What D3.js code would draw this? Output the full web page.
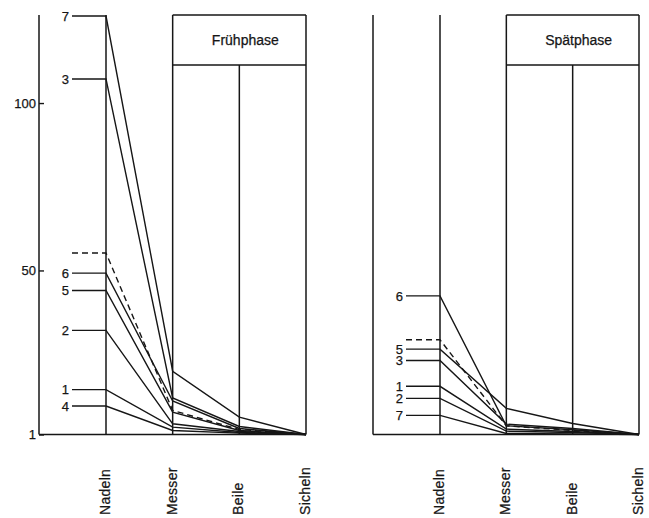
<!DOCTYPE html>
<html>
<head>
<meta charset="utf-8">
<script src="https://cdn.jsdelivr.net/npm/d3@7"></script>
<style>
  html, body { margin: 0; padding: 0; background: #fff; }
  text { font-family: 'Liberation Sans', Arial, sans-serif; fill: #161616; stroke: #161616; stroke-width: 0.25px; }
</style>
</head>
<body>
<div id="app"></div>
<script>
(function (d3) {

  'use strict'

  const categories = ['Nadeln', 'Messer', 'Beile', 'Sicheln']
  const yTicks = [1, 50, 100]

  // Frühphase: number label, values for Nadeln/Messer/Beile/Sicheln ('' = dashed line)
  const fruehLabels = ['7', '3', '', '6', '5', '2', '1', '4']
  const fruehValues = [
    [126, 19.9, 6.2, 1],
    [107.2, 11.9, 3.4, 1],
    [55.2, 8.2, 2.5, 1],
    [49.2, 11.0, 2.8, 1],
    [44.0, 7.7, 2.2, 1],
    [32.1, 4.2, 1.9, 1],
    [14.4, 3.2, 1.6, 1],
    [9.5, 2.2, 1.4, 1]
  ]

  // Spätphase
  const spaetLabels = ['6', '', '5', '3', '1', '2', '7']
  const spaetValues = [
    [42.4, 3.6, 2.4, 1],
    [29.3, 3.6, 2.2, 1],
    [26.5, 8.8, 4.3, 1],
    [23.1, 4.1, 2.8, 1],
    [15.4, 2.6, 1.9, 1],
    [11.8, 2.0, 1.6, 1],
    [6.7, 1.3, 1.2, 1]
  ]

  const w = 649
  const h = 518
  const top = 15
  const headerBottom = 65
  const base = 434.5

  const svg = d3.select('#app')
  .append('svg')
  .attr('width', w)
  .attr('height', h)

  const y = d3.scaleLinear()
  .domain([1, 126])
  .range([base, 16])

  const drawPanel = function (opts) {
    const g = svg.append('g')
    const x = d3.scalePoint()
    .domain(categories)
    .range([opts.first, opts.last])

    const ink = '#161616'

    // left border line, with ticks only on the first panel
    if (opts.ticks) {
      const axis = d3.axisLeft(y)
      .tickValues(yTicks)
      .tickSizeInner(-5)
      .tickSizeOuter(0)
      .tickPadding(3)
      const ax = g.append('g')
      .attr('transform', 'translate(' + opts.axisX + ',0)')
      .call(axis)
      ax.select('.domain').attr('stroke', ink).attr('stroke-width', 1.5).attr('d', 'M0,' + top + 'V' + base)
      ax.selectAll('.tick line').attr('stroke', ink).attr('stroke-width', 1.4)
      ax.selectAll('.tick text')
      .attr('font-size', 13)
      .attr('font-family', "'Liberation Sans', Arial, sans-serif")
      .attr('fill', ink)
    } else {
      g.append('line')
      .attr('x1', opts.axisX).attr('x2', opts.axisX)
      .attr('y1', top).attr('y2', base)
      .attr('stroke', ink).attr('stroke-width', 1.5)
    }

    // frame: bottom line, category verticals, header box
    g.append('line')
    .attr('x1', opts.axisX).attr('x2', x('Sicheln'))
    .attr('y1', base).attr('y2', base)
    .attr('stroke', ink).attr('stroke-width', 1.5)

    g.selectAll('line.cat')
    .data(categories)
    .enter()
    .append('line')
    .attr('class', 'cat')
    .attr('x1', d => x(d)).attr('x2', d => x(d))
    .attr('y1', d => (d === 'Beile' ? headerBottom : top))
    .attr('y2', base)
    .attr('stroke', ink)
    .attr('stroke-width', 1.5)

    g.append('line')
    .attr('x1', x('Messer')).attr('x2', x('Sicheln'))
    .attr('y1', top).attr('y2', top)
    .attr('stroke', ink).attr('stroke-width', 1.5)

    g.append('line')
    .attr('x1', x('Messer')).attr('x2', x('Sicheln'))
    .attr('y1', headerBottom).attr('y2', headerBottom)
    .attr('stroke', ink).attr('stroke-width', 1.5)

    g.append('text')
    .attr('x', (x('Messer') + x('Sicheln')) / 2 + 6)
    .attr('y', 45)
    .attr('text-anchor', 'middle')
    .attr('font-size', 14)
    .text(opts.title)

    // series lines, starting with the label stub left of Nadeln
    const line = d3.line()
    .x(d => d[0])
    .y(d => y(d[1]))

    const rows = opts.values.map((vals, i) => ({
      label: opts.labels[i],
      pts: [[opts.stubX, vals[0]]].concat(vals.map((v, j) => [x(categories[j]), v]))
    }))

    g.selectAll('path.series')
    .data(rows)
    .enter()
    .append('path')
    .attr('class', 'series')
    .attr('d', d => line(d.pts))
    .attr('fill', 'none')
    .attr('stroke', ink)
    .attr('stroke-width', 1.4)
    .attr('stroke-dasharray', d => (d.label === '' ? '6,4' : null))

    g.selectAll('text.num')
    .data(rows.filter(d => d.label !== ''))
    .enter()
    .append('text')
    .attr('class', 'num')
    .attr('x', opts.stubX - 3)
    .attr('y', d => y(d.pts[0][1]))
    .attr('dy', '0.36em')
    .attr('text-anchor', 'end')
    .attr('font-size', 13)
    .text(d => d.label)

    // category names, rotated
    g.selectAll('text.catlabel')
    .data(categories)
    .enter()
    .append('text')
    .attr('class', 'catlabel')
    .attr('transform', d => 'translate(' + (x(d) + 4) + ',515) rotate(-90)')
    .attr('font-size', 14)
    .attr('letter-spacing', 0.3)
    .text(d => d)
  }

  drawPanel({
    axisX: 39, first: 106, last: 306, stubX: 72,
    ticks: true, title: 'Frühphase',
    labels: fruehLabels, values: fruehValues
  })

  drawPanel({
    axisX: 373, first: 440, last: 639, stubX: 406,
    ticks: false, title: 'Spätphase',
    labels: spaetLabels, values: spaetValues
  })

}(d3))
</script>
</body>
</html>
